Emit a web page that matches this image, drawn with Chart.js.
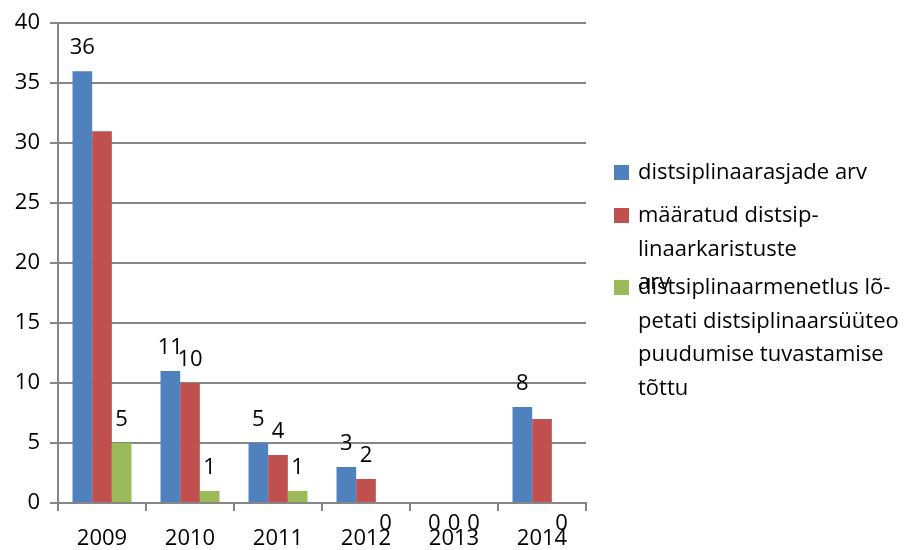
<!DOCTYPE html>
<html>
<head>
<meta charset="utf-8">
<script src="https://cdn.jsdelivr.net/npm/chart.js@4"></script>
<style>
    html, body { margin: 0; padding: 0; background: #fff; }
    #wrap { width: 921px; height: 550px; }
</style>
</head>
<body>
<div id="wrap"><canvas id="BarChart" width="921" height="550"></canvas></div>
<script>
// categories and series
var years = ['2009', '2010', '2011', '2012', '2013', '2014'];
var cases = [36, 11, 5, 3, 0, 8];              // distsiplinaarasjade arv
var penalties = [31, 10, 4, 2, 0, 7];          // määratud distsiplinaarkaristuste arv
var dropped = [5, 1, 1, 0, 0, 0];              // menetlus lõpetati
var yTicks = [0, 5, 10, 15, 20, 25, 30, 35, 40];

// legend text, wrapped as in the original
var seriesNames = [
    ['distsiplinaarasjade arv'],
    ['määratud distsip-', 'linaarkaristuste', 'arv'],
    ['distsiplinaarmenetlus lõ-', 'petati distsiplinaarsüüteo', 'puudumise tuvastamise', 'tõttu']
];
// value labels the original leaves out: [dataset, point]
var hiddenLabels = [[1, 0], [1, 5]];

var colors = ['#4F81BD', '#C0504D', '#9BBB59'];
var FONT = '"Open Sans", sans-serif';

function isHidden(ds, i) {
    return hiddenLabels.some(function (h) { return h[0] === ds && h[1] === i; });
}

// value labels: above the bar, zeros under the axis
var valueLabels = {
    id: 'valueLabels',
    afterDatasetsDraw: function (chart) {
        var ctx = chart.ctx;
        var bottom = chart.chartArea.bottom;
        ctx.save();
        ctx.font = '22px ' + FONT;
        ctx.fillStyle = '#000';
        ctx.textAlign = 'center';
        ctx.textBaseline = 'middle';
        chart.data.datasets.forEach(function (ds, d) {
            chart.getDatasetMeta(d).data.forEach(function (bar, i) {
                if (isHidden(d, i)) return;
                var v = ds.data[i];
                var y = v === 0 ? bottom + 21 : bar.y - 23;
                ctx.fillText(String(v), bar.x, y);
            });
        });
        ctx.restore();
    }
};

// legend on the right with wrapped lines
var sideLegend = {
    id: 'sideLegend',
    afterDraw: function (chart) {
        var ctx = chart.ctx;
        var itemTop = [173, 216, 288];
        var lineH = 33.5;
        ctx.save();
        ctx.font = '22px ' + FONT;
        ctx.textBaseline = 'middle';
        ctx.textAlign = 'left';
        seriesNames.forEach(function (lines, k) {
            ctx.fillStyle = colors[k];
            ctx.fillRect(614, itemTop[k] - 8, 15, 15);
            ctx.fillStyle = '#000';
            lines.forEach(function (t, j) {
                ctx.fillText(t, 638, itemTop[k] + j * lineH);
            });
        });
        ctx.restore();
    }
};

var ctx = document.getElementById('BarChart').getContext('2d');
var chart = new Chart(ctx, {
    type: 'bar',
    data: {
        labels: years,
        datasets: [
            { label: seriesNames[0].join(' '), data: cases, backgroundColor: colors[0] },
            { label: seriesNames[1].join(' '), data: penalties, backgroundColor: colors[1] },
            { label: seriesNames[2].join(' '), data: dropped, backgroundColor: colors[2] }
        ]
    },
    options: {
        responsive: false,
        animation: false,
        devicePixelRatio: 1,
        categoryPercentage: 0.67,
        barPercentage: 1.0,
        layout: { padding: { top: 19, right: 335, left: 0, bottom: 0 } },
        scales: {
            x: {
                grid: {
                    offset: true,
                    drawOnChartArea: false,
                    color: '#868686',
                    lineWidth: 2,
                    tickLength: 8
                },
                border: { color: '#868686', width: 2 },
                ticks: { color: '#000', font: { family: FONT, size: 22 }, padding: 15, maxRotation: 0 },
                afterFit: function (s) { s.height = 47; }
            },
            y: {
                min: 0,
                max: 40,
                afterBuildTicks: function (s) { s.ticks = yTicks.map(function (v) { return { value: v }; }); },
                grid: { color: '#868686', lineWidth: 2, tickLength: 8 },
                border: { color: '#868686', width: 2 },
                ticks: { color: '#000', font: { family: FONT, size: 22 }, padding: 10 },
                afterFit: function (s) { s.width = 58; }
            }
        },
        plugins: {
            legend: { display: false },
            tooltip: { enabled: false }
        }
    },
    plugins: [valueLabels, sideLegend]
});
</script>
</body>
</html>
